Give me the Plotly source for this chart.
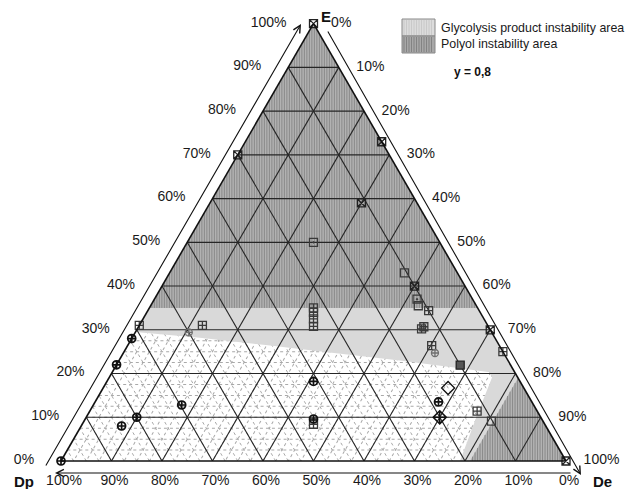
import plotly.graph_objects as go

W, H = 626, 489

# Ternary values are percentages: E (top), Dp (bottom left), De (bottom right)
TICK_VALUES = [i * 2.5 for i in range(41)]
TICK_TEXT = [f"{int(v)}%" if v % 10 == 0 else "" for v in TICK_VALUES]
MAJOR_LEVELS = [10, 20, 30, 40, 50, 60, 70, 80, 90]

# Polyol instability area (upper part and De corner)
POLYOL_TOP_E = [35, 35, 100]
POLYOL_TOP_DP = [65, 0, 0]
POLYOL_TOP_DE = [0, 65, 0]
POLYOL_CORNER_E = [0, 0, 19]
POLYOL_CORNER_DP = [19, 0, 0]
POLYOL_CORNER_DE = [81, 100, 81]

# Glycolysis product instability area
GLYCO_E = [36, 36, 0, 0, 10.9, 19.1, 20.3, 21.2, 23.0, 24.8, 26.4, 28.2, 29.5]
GLYCO_DE = [0, 64, 100, 79, 77.1, 75.8, 74.8, 68.4, 55.6, 40.8, 28.2, 13.4, 0]
GLYCO_DP = [100 - e - d for e, d in zip(GLYCO_E, GLYCO_DE)]

# Experimental compositions, grouped by marker
SQX_E = [100, 70, 73, 59, 40, 30, 0]
SQX_DP = [0, 30, 0, 11, 10, 0, 0]
SQX_DE = [0, 0, 27, 30, 50, 70, 100]

SQCROSS_E = [35, 34, 32.5, 30.8, 31, 31, 34.4, 30.2, 30.7, 26.4, 25, 11.4, 8.4]
SQCROSS_DP = [32.5, 33, 33.75, 34.6, 69, 56.5, 10, 13.5, 12.8, 13.4, 0, 11.9, 45.8]
SQCROSS_DE = [32.5, 33, 33.75, 34.6, 0, 12.5, 55.6, 56.3, 56.5, 60.2, 75, 76.7, 45.8]

SQDOT_E = [50, 37]
SQDOT_DP = [25, 11]
SQDOT_DE = [25, 52]

SQOPEN_E = [43, 35.5, 9.1]
SQOPEN_DP = [10.5, 11.5, 10.2]
SQOPEN_DE = [46.5, 53, 80.7]

SQFULL_E = [21.9]
SQFULL_DP = [10]
SQFULL_DE = [68.1]

CIRC_E = [0, 28, 22, 10, 8, 12.8, 18.2, 9.6, 13.5]
CIRC_DP = [100, 72, 78, 80, 84, 69.7, 40.9, 45.2, 18.5]
CIRC_DE = [0, 0, 0, 10, 8, 17.5, 40.9, 45.2, 68]

CIRC_GREY_E = [24.7, 29.4]
CIRC_GREY_DP = [13.6, 60]
CIRC_GREY_DE = [61.7, 10.6]

DIAM_E = [16.7]
DIAM_DP = [15]
DIAM_DE = [68.3]

DIAMX_E = [10]
DIAMX_DP = [20]
DIAMX_DE = [70]

DARK_FILL = "#b2b2b2"
DARK_HATCH = "#858585"
LIGHT_FILL = "#d9d9d9"

fig = go.Figure()


def area(e, dp, de, color):
    fig.add_trace(go.Scatterternary(
        a=e + e[:1], b=dp + dp[:1], c=de + de[:1], mode="lines",
        fill="toself", fillcolor=color, line=dict(width=0, color=color),
        hoverinfo="skip", showlegend=False))


area(GLYCO_E, GLYCO_DP, GLYCO_DE, LIGHT_FILL)
area(POLYOL_TOP_E, POLYOL_TOP_DP, POLYOL_TOP_DE, DARK_FILL)
area(POLYOL_CORNER_E, POLYOL_CORNER_DP, POLYOL_CORNER_DE, DARK_FILL)

# Vertical hatching of the polyol area (x = De + E/2 held constant)
step = 2.5 / 505
ha, hb, hc = [], [], []
e_low = POLYOL_TOP_E[0] / 100
k = e_low / 2 + step
while k < 1 - e_low / 2:
    e_high = min(2 * k, 2 * (1 - k))
    for e in (e_low, e_high):
        ha.append(e * 100); hc.append((k - e / 2) * 100); hb.append(100 - ha[-1] - hc[-1])
    ha.append(None); hb.append(None); hc.append(None)
    k += step
de_low = POLYOL_CORNER_DE[0] / 100
k = de_low + step
while k < 1:
    e_high = min(2 * (k - de_low), 2 * (1 - k))
    for e in (0, e_high):
        ha.append(e * 100); hc.append((k - e / 2) * 100); hb.append(100 - ha[-1] - hc[-1])
    ha.append(None); hb.append(None); hc.append(None)
    k += step
fig.add_trace(go.Scatterternary(a=ha, b=hb, c=hc, mode="lines",
                                line=dict(color=DARK_HATCH, width=0.9),
                                hoverinfo="skip", showlegend=False))

# Main 10 % grid drawn over the shaded areas
ga, gb, gc = [], [], []
for lv in MAJOR_LEVELS:
    ga += [lv, lv, None]; gb += [100 - lv, 0, None]; gc += [0, 100 - lv, None]
    ga += [100 - lv, 0, None]; gb += [lv, lv, None]; gc += [0, 100 - lv, None]
    ga += [100 - lv, 0, None]; gb += [0, 100 - lv, None]; gc += [lv, lv, None]
fig.add_trace(go.Scatterternary(a=ga, b=gb, c=gc, mode="lines",
                                line=dict(color="#262626", width=1.1),
                                hoverinfo="skip", showlegend=False))


def points(e, dp, de, symbol, color="#2b2b2b", size=8, width=1.3, fill=None):
    fig.add_trace(go.Scatterternary(
        a=e, b=dp, c=de, mode="markers", showlegend=False, cliponaxis=False,
        marker=dict(symbol=symbol, size=size, color=fill or color,
                    line=dict(color=color, width=width))))


points(SQX_E, SQX_DP, SQX_DE, "square-x-open", color="#222")
points(SQCROSS_E, SQCROSS_DP, SQCROSS_DE, "square-cross-open", color="#3a3a3a")
points(SQDOT_E, SQDOT_DP, SQDOT_DE, "square-open-dot", color="#3a3a3a")
points(SQOPEN_E, SQOPEN_DP, SQOPEN_DE, "square-open", color="#3a3a3a")
points(SQFULL_E, SQFULL_DP, SQFULL_DE, "square", color="#222", fill="#555")
points(CIRC_E, CIRC_DP, CIRC_DE, "circle-cross-open", color="#111", size=8, width=1.7)
points(CIRC_GREY_E, CIRC_GREY_DP, CIRC_GREY_DE, "circle-cross-open", color="#6f6f6f", size=7)
points(DIAM_E, DIAM_DP, DIAM_DE, "diamond-open", color="#111", size=10)
points(DIAMX_E, DIAMX_DP, DIAMX_DE, "diamond-cross-open", color="#111", size=10, width=1.6)

font = dict(family="Liberation Sans, Arial, sans-serif", size=14, color="#1a1a1a")


def axis(ticklen, text):
    return dict(title=dict(text=""),
                tickmode="array", tickvals=TICK_VALUES, ticktext=text,
                ticks="outside" if ticklen else "", ticklen=ticklen,
                tickcolor="rgba(0,0,0,0)",
                showgrid=True, gridcolor="#a9a9a9", gridwidth=0.7, griddash="dot",
                showline=True, linecolor="#111", linewidth=1.6,
                tickfont=font, layer="above traces")


# right-hand labels sit clear of the De arrow
C_TEXT = [("    " + t) if t else "" for t in TICK_TEXT]

tri_h = 505 * 3 ** 0.5 / 2
fig.update_layout(
    width=W, height=H, margin=dict(l=0, r=0, t=0, b=0),
    paper_bgcolor="white",
    ternary=dict(
        sum=100, bgcolor="white",
        domain=dict(x=[61 / W, 566 / W], y=[28 / H, (28 + tri_h) / H]),
        aaxis=axis(24, TICK_TEXT), baxis=axis(6, TICK_TEXT), caxis=axis(0, C_TEXT),
    ),
)


def px(x):
    return x / W


def py(y):
    return 1 - y / H


def label(text, x, y, fnt, xanchor="center"):
    fig.add_annotation(x=px(x), y=py(y), xref="paper", yref="paper", text=text,
                       xanchor=xanchor, yanchor="middle", showarrow=False, font=fnt)


# Direction arrows alongside the triangle
for head, tail in [((301, 24), (45, 467)), ((55, 473), (572, 473)), ((581, 475), (327, 30))]:
    fig.add_annotation(x=px(head[0]), y=py(head[1]), xref="paper", yref="paper",
                       ax=tail[0] - head[0], ay=tail[1] - head[1], text="",
                       showarrow=True, arrowhead=5, arrowsize=1.3, arrowwidth=1.1,
                       arrowcolor="#111")

bold = dict(family="Liberation Sans, Arial, sans-serif", size=15, color="#111")
label("<b>E</b>", 326, 17, bold)
label("<b>Dp</b>", 24, 481, bold)
label("<b>De</b>", 602, 481, bold)

# Legend boxes
for (y0, y1), fillc, linec in [((19, 36), "#dcdcdc", "#c4c4c4"), ((36, 53), "#a8a8a8", "#7a7a7a")]:
    fig.add_shape(type="rect", xref="paper", yref="paper", x0=px(402), x1=px(435),
                  y0=py(y1), y1=py(y0), fillcolor=fillc, line=dict(color="#888", width=1))
    path = ""
    x = 404
    while x < 434:
        path += f"M{px(x)},{py(y0 + 1)}L{px(x)},{py(y1 - 1)}"
        x += 2.5
    fig.add_shape(type="path", xref="paper", yref="paper", path=path,
                  line=dict(color=linec, width=0.8))

small = dict(family="Liberation Sans, Arial, sans-serif", size=12.4, color="#1a1a1a")
label("Glycolysis product instability area", 439, 28, small, xanchor="left")
label("Polyol instability area", 439, 44, small, xanchor="left")
label("<b>y = 0,8</b>", 472, 72,
      dict(family="Liberation Sans, Arial, sans-serif", size=12, color="#111"))

fig.write_html("out.html")
